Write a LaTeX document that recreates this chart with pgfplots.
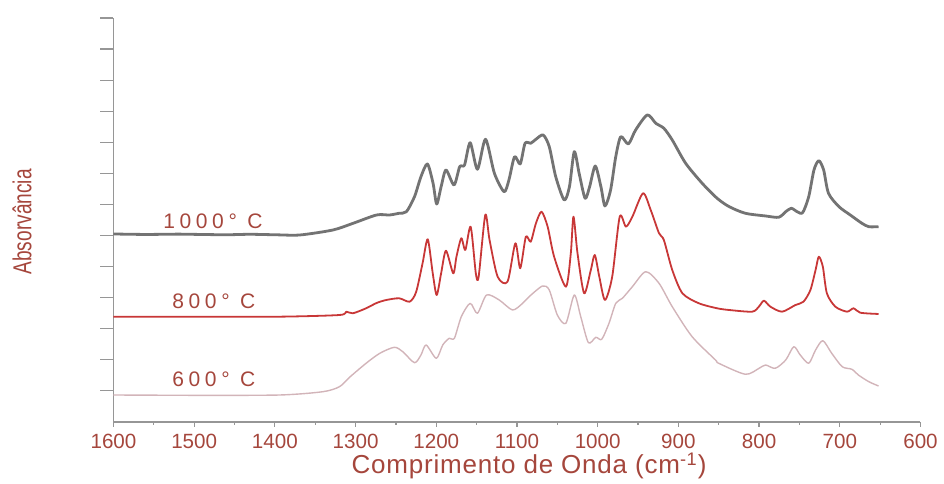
\documentclass[border=0pt]{standalone}
\usepackage{fontspec}
\setmainfont{Liberation Sans}
\newfontfamily\spaced[LetterSpace=22]{Liberation Sans}
\newfontfamily\xlab[LetterSpace=3]{Liberation Sans}
\usepackage{graphicx}
\usepackage{pgfplots}
\pgfplotsset{compat=1.18}
\definecolor{lbl}{RGB}{165,70,60}
\definecolor{gcurve}{RGB}{115,115,115}
\definecolor{rcurve}{RGB}{200,55,55}
\definecolor{pcurve}{RGB}{210,180,185}
\definecolor{axgray}{RGB}{150,150,150}
\begin{document}
\begin{tikzpicture}
\path[use as bounding box] (-56.75pt,-30.65pt) rectangle (415.25pt,210.85pt);
\begin{axis}[
  at={(0pt,0pt)}, anchor=south west,
  scale only axis, width=403.5pt, height=201.85pt,
  x dir=reverse, xmin=600, xmax=1600, ymin=0, ymax=13,
  axis x line*=bottom, axis y line*=left,
  axis line style={axgray, line width=0.9pt},
  xtick={600,700,...,1600}, minor x tick num=1,
  ytick={1,...,13}, yticklabels={},
  tick align=outside, major tick length=2.5pt, minor tick length=1.5pt,
  tick style={axgray, line width=0.6pt},
  y tick style={/pgfplots/major tick length=6.5pt},
  /pgf/number format/1000 sep={},
  /pgf/number format/assume math mode=true,
  x tick label style={font=\fontsize{10.3}{12}\selectfont, text=lbl},
  xlabel={Comprimento de Onda (cm\textsuperscript{-1})},
  xlabel style={at={(axis description cs:0.515,-0.1097)}, anchor=center, font=\xlab\fontsize{13}{15}\selectfont, text=lbl},
  ylabel={\scalebox{0.734}[1]{Absorvância}},
  ylabel style={at={(axis description cs:-0.1134,0.495)}, anchor=center, font=\fontsize{13}{15}\selectfont, text=lbl},
  clip=false,
  every axis plot/.append style={line join=round, smooth, tension=0.45},
]
% 1000 C
\addplot[gcurve, line width=1.4pt] coordinates {
(1600,6.045) (1560,6.03) (1520,6.04) (1493,6.03) (1460,6.02) (1431,6.035) (1400,6.02) (1369,6.013)
(1328,6.174) (1303,6.39) (1274,6.657) (1258,6.657) (1246,6.712) (1237,6.763) (1227,7.246) (1219,7.89)
(1211,8.30) (1204,7.678) (1199.5,7.011) (1194,7.568) (1188,8.106) (1178,7.623) (1171,8.213) (1165,8.267)
(1158,8.985) (1149,8.129) (1139,9.095) (1128,8.0) (1116,7.407) (1110,7.784) (1103,8.535) (1096,8.30)
(1090,8.966) (1083,8.966) (1076.5,9.095) (1067.5,9.233) (1060,8.857) (1052,7.89) (1041.5,7.14) (1035,7.568)
(1029,8.696) (1023,8.0) (1015.6,7.195) (1010,7.568) (1003,8.235) (996,7.568) (991,6.947) (984,7.462)
(977.6,8.535) (971.4,9.179) (962,8.944) (953,9.394) (938.5,9.878) (928,9.61) (918,9.449) (907.6,9.072)
(891,8.322) (870.5,7.678) (852,7.195) (837,6.924) (817,6.712) (792,6.625) (775.6,6.583) (767,6.763)
(760,6.873) (753,6.763) (746,6.731) (738.5,7.246) (732,8.106) (726,8.406) (720,8.106) (714,7.356)
(701,6.924) (687,6.657) (672.6,6.39) (664,6.28) (652,6.28)
};
% 800 C
\addplot[rcurve, line width=0.9pt] coordinates {
(1600,3.382) (1500,3.382) (1394,3.382) (1320,3.436) (1311.6,3.543) (1303.4,3.491) (1287,3.652) (1274,3.823)
(1262,3.919) (1246,3.974) (1233,3.865) (1225,4.177) (1217,5.101) (1210.6,5.874) (1204.4,4.779) (1199.5,4.08)
(1194,4.779) (1188,5.507) (1179,4.779) (1175,5.314) (1169,5.907) (1164,5.53) (1157.4,6.28) (1151,4.779)
(1147.5,4.67) (1139.3,6.657) (1134,5.852) (1124,4.67) (1111.7,4.509) (1102,5.746) (1096,4.94) (1089,5.958)
(1083,5.797) (1076.5,6.39) (1069.6,6.763) (1062,6.28) (1054,5.314) (1039.4,4.348) (1033.3,5.424) (1030,6.602)
(1025,5.424) (1016.8,4.135) (1008.5,4.886) (1003.6,5.369) (998,4.67) (991,3.919) (982,4.67) (972.7,6.602)
(965,6.28) (957,6.602) (943.8,7.356) (934.3,6.818) (924,6.068) (918,5.852) (907.6,4.886) (895,4.135)
(874.6,3.813) (852,3.652) (837,3.597) (808.6,3.543) (800.3,3.704) (794,3.897) (786,3.704) (771.5,3.543)
(755,3.758) (745,3.865) (736.4,4.241) (730,4.886) (726,5.314) (721,4.992) (716,4.135) (705.5,3.704)
(691,3.543) (683,3.652) (674.6,3.51) (652,3.469)
};
% 600 C
\addplot[pcurve, line width=0.7pt] coordinates {
(1600,0.86) (1500,0.85) (1394,0.86) (1340.5,0.966) (1320,1.127) (1307.5,1.43) (1287,1.881) (1270,2.203)
(1252,2.396) (1241.5,2.254) (1227,1.9) (1219,2.148) (1212.6,2.47) (1200,2.042) (1192,2.47) (1184,2.686)
(1177.6,2.686) (1169,3.382) (1158,3.813) (1149,3.491) (1137.7,4.08) (1122,3.919) (1105.5,3.597) (1093,3.813)
(1085,4.026) (1068.4,4.37) (1060,4.241) (1050,3.436) (1039.4,3.169) (1029,4.08) (1021,3.382) (1011.5,2.544)
(1002.3,2.718) (995,2.654) (986,3.169) (977.6,3.813) (969.4,3.974) (957,4.348) (940.5,4.831) (924,4.457)
(907.6,3.704) (883,2.738) (854,1.987) (850,1.881) (817,1.527) (800,1.72) (792,1.826) (780,1.72)
(767,1.987) (757,2.415) (749,2.148) (738.5,1.881) (730,2.309) (721,2.609) (710,2.203) (697,1.771)
(685,1.688) (677,1.504) (664,1.288) (652,1.15)
};
\node[anchor=west, inner sep=0pt, text=lbl, font=\spaced\fontsize{10.5}{12}\selectfont] at (axis cs:1538.7,6.464) {1000° C};
\node[anchor=west, inner sep=0pt, text=lbl, font=\spaced\fontsize{10.5}{12}\selectfont] at (axis cs:1527.5,3.865) {800° C};
\node[anchor=west, inner sep=0pt, text=lbl, font=\spaced\fontsize{10.5}{12}\selectfont] at (axis cs:1527.5,1.375) {600° C};
\end{axis}
\end{tikzpicture}
\end{document}
